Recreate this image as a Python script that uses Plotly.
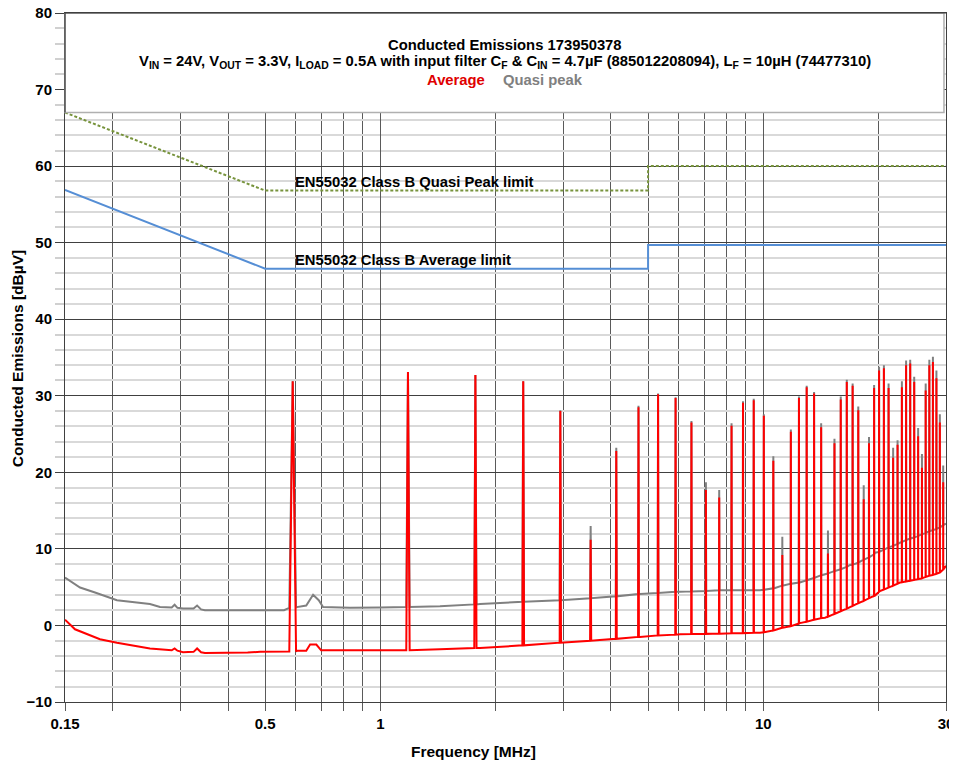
import plotly.graph_objects as go

# ---------------- data ----------------
# Limit lines (frequency MHz, level dBuV)
qp_limit_f = [0.15, 0.5, 5.0, 5.0, 30.0]
qp_limit_v = [67.0, 56.8, 56.8, 60.0, 60.0]
avg_limit_f = [0.15, 0.5, 5.0, 5.0, 30.0]
avg_limit_v = [56.9, 46.6, 46.6, 49.7, 49.7]

# Noise floor between the harmonics (average detector)
avg_floor_f = [0.15, 0.1593, 0.1851, 0.205, 0.25, 0.285, 0.29, 0.295, 0.305, 0.325, 0.332,
               0.34, 0.348, 0.40, 0.45, 0.485, 0.56, 0.605, 0.64, 0.655, 0.68, 0.70, 0.83,
               1.0, 1.16, 1.43, 1.82, 2.31, 2.94, 3.74, 4.76, 6.06, 7.70, 9.80, 10.73,
               12.46, 14.49, 16.84, 19.57, 20.17, 22.74, 25.65, 28.93, 30.0]
avg_floor_v = [0.75, -0.5, -1.8, -2.25, -3.0, -3.25, -3.0, -3.3, -3.5, -3.45, -3.0,
               -3.5, -3.6, -3.6, -3.55, -3.45, -3.45, -3.3, -3.3, -2.5, -2.5, -3.25, -3.25,
               -3.25, -3.25, -3.1, -2.95, -2.6, -2.25, -1.9, -1.5, -1.15, -1.07, -0.94, -0.6,
               0.3, 1.0, 2.4, 3.9, 4.5, 5.6, 6.1, 6.9, 7.8]

# Noise floor between the harmonics (quasi-peak detector)
qp_floor_f = [0.15, 0.1642, 0.1797, 0.205, 0.25, 0.2656, 0.285, 0.29, 0.295, 0.305, 0.325,
              0.332, 0.34, 0.348, 0.56, 0.605, 0.64, 0.667, 0.69, 0.708, 0.833, 1.0, 1.43,
              1.82, 2.31, 2.94, 3.74, 4.76, 6.06, 7.70, 9.80, 10.73, 12.46, 14.06, 16.84,
              19.57, 22.74, 25.65, 28.93, 30.0]
qp_floor_v = [6.25, 4.96, 4.3, 3.3, 2.8, 2.42, 2.35, 2.7, 2.3, 2.2, 2.2,
              2.6, 2.1, 2.0, 2.0, 2.4, 2.6, 4.0, 3.3, 2.4, 2.3, 2.35, 2.5,
              2.8, 3.1, 3.3, 3.65, 4.1, 4.4, 4.6, 4.6, 4.9, 5.6, 6.5, 7.9,
              9.5, 10.8, 11.8, 12.8, 13.3]

# Switching harmonics (MHz)
harm_f = [0.59, 1.18, 1.77, 2.36, 2.95, 3.54, 4.13, 4.72, 5.31, 5.90,
          6.49, 7.08, 7.67, 8.26, 8.85, 9.44, 10.03, 10.62, 11.21, 11.80,
          12.39, 12.98, 13.57, 14.16, 14.75, 15.34, 15.93, 16.52, 17.11, 17.70,
          18.29, 18.88, 19.47, 20.06, 20.65, 21.24, 21.83, 22.42, 23.01, 23.60,
          24.19, 24.78, 25.37, 25.96, 26.55, 27.14, 27.73, 28.32, 28.91, 29.50]
harm_avg_peak = [31.9, 33.1, 32.7, 31.9, 28.0, 11.2, 22.8, 28.5, 30.2, 29.7,
                 26.5, 17.7, 16.7, 26.1, 29.1, 29.4, 27.4, 21.5, 9.2, 25.3,
                 29.7, 31.1, 30.3, 25.9, 9.4, 23.8, 29.5, 31.8, 31.3, 28.1,
                 16.5, 23.8, 31.0, 33.3, 33.6, 31.0, 21.9, 23.6, 31.1, 34.0,
                 34.2, 31.8, 24.7, 20.6, 30.7, 34.0, 34.4, 32.3, 26.5, 18.7]
harm_qp_peak = [31.9, 33.1, 32.7, 31.9, 28.1, 13.0, 23.2, 28.7, 30.3, 29.8,
                26.7, 18.7, 17.7, 26.4, 29.3, 29.6, 27.6, 22.1, 11.6, 25.6,
                29.9, 31.3, 30.5, 26.4, 12.4, 24.4, 29.9, 32.1, 31.6, 28.6,
                18.3, 24.6, 31.4, 33.8, 34.0, 31.6, 23.2, 24.2, 31.9, 34.6,
                34.7, 32.5, 25.8, 22.4, 31.6, 34.7, 35.1, 33.3, 27.6, 20.9]
harm_avg_base = [-3.4, -3.25, -2.95, -2.6, -2.25, -2.0, -1.75, -1.5, -1.3, -1.2,
                 -1.12, -1.1, -1.07, -1.03, -1.0, -0.96, -0.9, -0.65, -0.3, -0.1,
                 0.25, 0.5, 0.75, 0.95, 1.15, 1.5, 1.85, 2.2, 2.55, 2.9,
                 3.2, 3.55, 3.85, 4.4, 4.7, 4.95, 5.2, 5.45, 5.65, 5.75,
                 5.85, 5.95, 6.05, 6.15, 6.35, 6.5, 6.6, 6.75, 6.9, 7.3]
harm_qp_base = [2.3, 2.4, 2.75, 3.1, 3.3, 3.55, 3.8, 4.1, 4.25, 4.4,
                4.45, 4.5, 4.6, 4.6, 4.6, 4.6, 4.65, 4.85, 5.2, 5.45,
                5.6, 5.9, 6.2, 6.55, 6.8, 7.1, 7.35, 7.65, 7.95, 8.2,
                8.6, 8.9, 9.3, 9.6, 9.9, 10.2, 10.4, 10.65, 10.9, 11.15,
                11.35, 11.5, 11.7, 11.9, 12.1, 12.3, 12.45, 12.6, 12.8, 13.1]

x_tick_vals = [0.15, 0.5, 1, 10, 30]
x_tick_text = ["0.15", "0.5", "1", "10", "30"]
x_grid_vals = [0.2, 0.3, 0.4, 0.6, 0.7, 0.8, 0.9, 2, 3, 4, 5, 6, 7, 8, 9, 20]

SPIKE_HALF = 0.012  # half width of a harmonic line in MHz (drawing style)


def build_trace(floor_f, floor_v, hf, hbase, hpeak):
    pts = list(zip(floor_f, floor_v))
    for f, b, p in zip(hf, hbase, hpeak):
        pts += [(f - SPIKE_HALF, b), (f, p), (f + SPIKE_HALF, b)]
    pts.sort(key=lambda t: t[0])
    return [p[0] for p in pts], [p[1] for p in pts]


qp_x, qp_y = build_trace(qp_floor_f, qp_floor_v, harm_f, harm_qp_base, harm_qp_peak)
av_x, av_y = build_trace(avg_floor_f, avg_floor_v, harm_f, harm_avg_base, harm_avg_peak)

FONT = "Liberation Sans, Arial, sans-serif"

fig = go.Figure()
fig.add_trace(go.Scatter(x=qp_limit_f, y=qp_limit_v, mode="lines",
                         line=dict(color="#77933C", width=2, dash="3px,2px"),
                         name="QP limit"))
fig.add_trace(go.Scatter(x=avg_limit_f, y=avg_limit_v, mode="lines",
                         line=dict(color="#558ED5", width=2), name="Avg limit"))
fig.add_trace(go.Scatter(x=qp_x, y=qp_y, mode="lines",
                         line=dict(color="#808080", width=2), name="Quasi peak"))
fig.add_trace(go.Scatter(x=av_x, y=av_y, mode="lines",
                         line=dict(color="#FF0000", width=2), name="Average"))

# page body has an 8px margin: figure is sized/margined to land the plot area correctly
fig.update_layout(
    width=949, height=754,
    margin=dict(l=57, r=11, t=4.7, b=60, autoexpand=False),
    paper_bgcolor="white", plot_bgcolor="white",
    showlegend=False,
    font=dict(family=FONT, size=14, color="black"),
)

fig.update_xaxes(
    type="log", range=[-0.8239087, 1.4771213], automargin=False,
    tickmode="array", tickvals=x_tick_vals, ticktext=x_tick_text,
    tickfont=dict(family=FONT, size=15, color="black", weight="bold"),
    ticklabeloverflow="allow",
    showgrid=True, gridcolor="#5a5a5a", gridwidth=1,
    ticks="outside", ticklen=8, tickcolor="#5a5a5a", tickwidth=1,
    minor=dict(tickmode="array", tickvals=x_grid_vals, showgrid=True,
               gridcolor="#5a5a5a", gridwidth=1, ticks="outside", ticklen=8,
               tickcolor="#5a5a5a", tickwidth=1),
    showline=True, linecolor="#404040", linewidth=1, mirror=True,
    zeroline=False,
)
fig.update_yaxes(
    range=[-10, 80], tickmode="linear", tick0=0, dtick=10, automargin=False,
    tickfont=dict(family=FONT, size=15, color="black", weight="bold"),
    ticklabeloverflow="allow",
    showgrid=True, gridcolor="#404040", gridwidth=1,
    ticks="outside", ticklen=9, tickcolor="#404040", tickwidth=1,
    minor=dict(dtick=2, showgrid=True, gridcolor="#d9d9d9", gridwidth=1.5,
               ticks="outside", ticklen=9, tickcolor="#d0d0d0", tickwidth=1.5),
    showline=True, linecolor="#404040", linewidth=1, mirror=True,
    zeroline=False,
)

# Title box
fig.add_shape(type="rect", xref="paper", yref="y", x0=0, x1=0.9977, y0=67.0, y1=80,
              fillcolor="white", line=dict(color="#b0b0b0", width=1.5), layer="above")
fig.add_shape(type="line", xref="paper", yref="y", x0=0, x1=1, y0=80, y1=80,
              line=dict(color="#404040", width=1.2), layer="above")
fig.add_shape(type="line", xref="paper", yref="y", x0=0, x1=0, y0=67.0, y1=80,
              line=dict(color="#404040", width=1.2), layer="above")

TF = 14.8
ann = []
ann.append(dict(xref="paper", yref="y", x=0.4989, y=75.8, xanchor="center", yanchor="middle",
                text="<b>Conducted Emissions 173950378</b>", showarrow=False,
                font=dict(family=FONT, size=TF, color="black")))
ann.append(dict(xref="paper", yref="y", x=0.4989, y=73.56, xanchor="center", yanchor="middle",
                text="<b>V<sub>IN</sub> = 24V, V<sub>OUT</sub> = 3.3V, I<sub>LOAD</sub> = 0.5A with input filter "
                     "C<sub>F</sub> &amp; C<sub>IN</sub> = 4.7µF (885012208094), L<sub>F</sub> = 10µH (74477310)</b>",
                showarrow=False, font=dict(family=FONT, size=TF, color="black")))
ann.append(dict(xref="paper", yref="y", x=0.479, y=71.3, xanchor="right", yanchor="middle",
                text="<b>Average</b>", showarrow=False,
                font=dict(family=FONT, size=TF, color="#E00000")))
ann.append(dict(xref="paper", yref="y", x=0.4949, y=71.3, xanchor="left", yanchor="middle",
                text="<b>Quasi peak</b>", showarrow=False,
                font=dict(family=FONT, size=TF, color="#808080")))
ann.append(dict(xref="paper", yref="y", x=0.2588, y=57.93, xanchor="left", yanchor="middle",
                text="<b>EN55032 Class B Quasi Peak limit</b>", showarrow=False,
                font=dict(family=FONT, size=TF, color="black")))
ann.append(dict(xref="paper", yref="y", x=0.2588, y=47.8, xanchor="left", yanchor="middle",
                text="<b>EN55032 Class B Average limit</b>", showarrow=False,
                font=dict(family=FONT, size=TF, color="black")))
ann.append(dict(xref="paper", yref="paper", x=0.4637, y=-0.0721, xanchor="center", yanchor="middle",
                text="<b>Frequency [MHz]</b>", showarrow=False,
                font=dict(family=FONT, size=15.5, color="black")))
ann.append(dict(xref="paper", yref="paper", x=-0.0545, y=0.499, xanchor="center", yanchor="middle",
                text="<b>Conducted Emissions [dBµV]</b>", textangle=-90, showarrow=False,
                font=dict(family=FONT, size=15.5, color="black")))
fig.update_layout(annotations=ann)

fig.write_html("out.html")
